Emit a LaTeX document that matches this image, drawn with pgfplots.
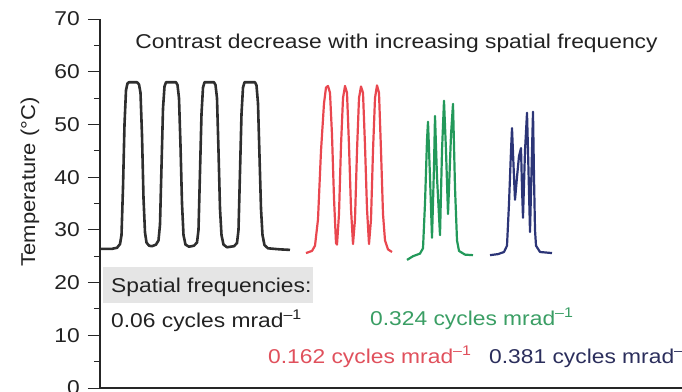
\documentclass[border=0pt]{standalone}
\usepackage{fontspec}
\setmainfont{Liberation Sans}
\usepackage{graphicx}
\usepackage{pgfplots}
\pgfplotsset{compat=1.18}
\definecolor{cblack}{HTML}{2E2E2E}
\definecolor{cred}{HTML}{E9474F}
\definecolor{cgreen}{HTML}{23995A}
\definecolor{cnavy}{HTML}{2C3577}
\definecolor{tred}{HTML}{E0505C}
\definecolor{tgreen}{HTML}{3A9E64}
\definecolor{tnavy}{HTML}{2B2E5C}
\definecolor{txt}{HTML}{222222}
\newcommand{\F}{\fontsize{20bp}{24bp}\selectfont}
\newcommand{\hs}[1]{\scalebox{1.14}[1]{#1}}
\begin{document}
\begin{tikzpicture}
\begin{axis}[
  scale only axis,
  width=620bp, height=369bp,
  at={(100bp,3bp)}, anchor=south west,
  xmin=100, xmax=720, ymin=0, ymax=70,
  axis x line=bottom, axis y line=left,
  axis line style={-, line width=1.1pt, color=black!85},
  xtick=\empty,
  ytick={0,10,...,70},
  minor y tick num=1,
  tick align=outside,
  major tick length=12bp, minor tick length=6bp,
  tick style={line width=1pt, color=black!85},
  /pgf/number format/assume math mode=true,
  yticklabel={\F\hs{\pgfmathprintnumber{\tick}}},
  yticklabel style={anchor=east, inner sep=0pt, xshift=-8bp, text=txt},
  clip=false,
]
\addplot[cblack, line width=2.6bp, line join=round] coordinates {
(101,26.4)(112,26.4)(117,26.6)(120,27.3)(121.5,29)(123,38)(124.5,50)(126,56.5)(127.5,57.8)(129,58)(137,58)(139,57.6)(140.5,56)(142,48)(143.5,36)(145,29.5)(146.5,27.6)(149,27)(152,26.9)(156,27.2)(158.5,28)(160,31)(161.5,42)(163,53)(164.5,57.2)(166,58)(176,58)(177.5,57.5)(179,55)(180.5,46)(182,35)(183.5,29)(185.5,27.2)(189,26.8)(194,27)(197,27.6)(198.5,30)(200,41)(201.5,52)(203,57)(204.5,58)(214,58)(215.5,57.5)(217,55)(218.5,45)(220,34)(221.5,29)(223.5,27.2)(227,26.7)(234,26.9)(237,27.5)(238.5,30)(240,41)(241.5,52)(243,57)(244.5,58)(255,58)(256.5,57.4)(258,54)(259.5,44)(261,34)(262.5,29)(264.5,27.1)(268,26.5)(280,26.3)(290,26.2)
};
\addplot[cred, line width=2.2bp, line join=round] coordinates {
(306,25.6)(312,26)(315,27)(318,32)(321,45)(324,54)(326,57)(328,57.3)(330,56)(332,48)(334,36)(336,27.5)(337,27.2)(339,33)(341,46)(343,55)(345,57.3)(347,56)(349,46)(351,34)(353,27.3)(355,32)(357,45)(359,55)(361,57.2)(363,56)(365,46)(367,34)(369,27.3)(371,32)(373,45)(375,55)(377,57.4)(379,56)(381,45)(383,33)(385,28)(388,26.3)(392,25.8)
};
\addplot[cgreen, line width=2.2bp, line join=round] coordinates {
(407,24.3)(413,25)(420,25.5)(423,26.5)(425,35)(427,47)(428,50.5)(430,40)(432,28.5)(434,42)(435,51.6)(437,40)(440,29)(442,45)(444,54.5)(446,45)(448,33)(451,48)(453,53.9)(455,38)(457,28)(459,26)(465,25.3)(473,25.2)
};
\addplot[cnavy, line width=2.2bp, line join=round] coordinates {
(490,25.2)(498,25.4)(504,25.8)(507,27)(509,35)(511,45)(512,49.3)(514,40)(515,35.7)(517,40)(519,44)(521,45.5)(522,38)(523,32.3)(525,45)(527,52.2)(528,45)(530,29.6)(532,45)(533,52.4)(534,40)(535,30)(536,27)(540,25.8)(552,25.6)
};
\fill[black!10] (axis cs:103,16.13) rectangle (axis cs:313,22.95);
\node[anchor=base, inner sep=0pt, text=txt] at (axis cs:396.5,64.31) {\F\hs{Contrast decrease with increasing spatial frequency}};
\node[anchor=base west, inner sep=0pt, text=txt] at (axis cs:111,18.21) {\F\hs{Spatial frequencies:}};
\node[anchor=base west, inner sep=0pt, text=txt] at (axis cs:111,11.57) {\F\hs{0.06 cycles mrad\textsuperscript{–1}}};
\node[anchor=base west, inner sep=0pt, text=tgreen] at (axis cs:370,11.95) {\F\hs{0.324 cycles mrad\textsuperscript{–1}}};
\node[anchor=base west, inner sep=0pt, text=tred] at (axis cs:268,4.74) {\F\hs{0.162 cycles mrad\textsuperscript{–1}}};
\node[anchor=base west, inner sep=0pt, text=tnavy] at (axis cs:489,4.74) {\F\hs{0.381 cycles mrad\textsuperscript{–1}}};
\node[rotate=90, inner sep=0pt, text=txt] at (axis cs:30,39.08) {\F\scalebox{1.1}[1]{Temperature (°C)}};
\coordinate (bbsw) at (axis cs:0,-0.569);
\coordinate (bbne) at (axis cs:682,73.606);
\end{axis}
\pgfresetboundingbox
\path[use as bounding box] (bbsw) rectangle (bbne);
\end{tikzpicture}
\end{document}
